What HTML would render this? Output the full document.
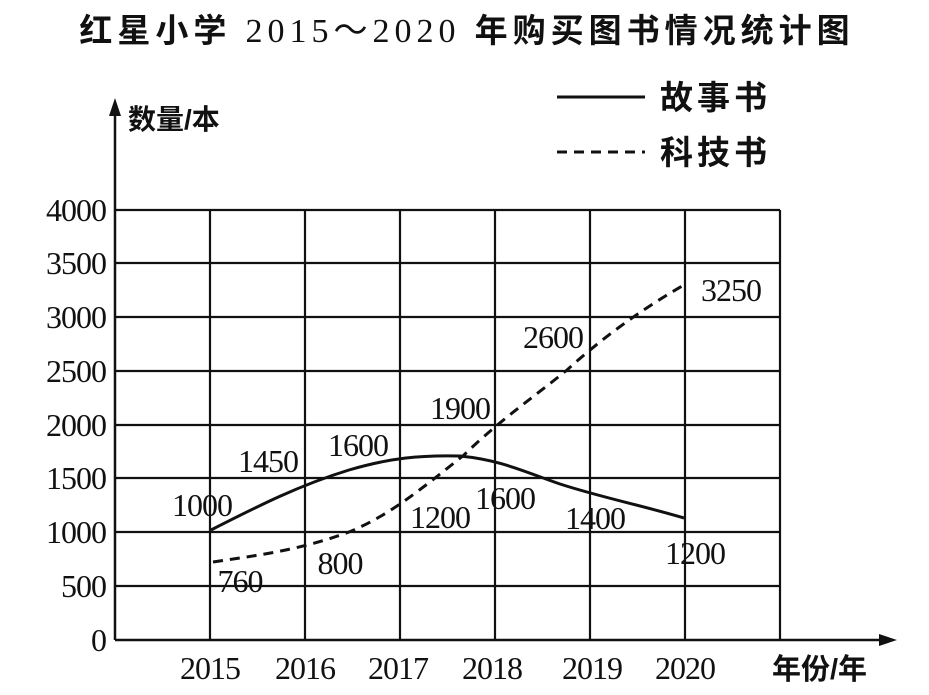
<!DOCTYPE html>
<html><head><meta charset="utf-8"><style>
body{margin:0;background:#fff}
svg{display:block}
.s{font-family:"Liberation Serif",serif;font-size:32px;fill:#111;letter-spacing:-1px}
.c{font-family:"Liberation Sans","Noto Sans CJK SC",sans-serif;font-weight:bold;fill:#111}
</style></head><body>
<svg width="929" height="695" viewBox="0 0 929 695">
<text x="467" y="42" text-anchor="middle" class="c" font-size="33" letter-spacing="5">红星小学 <tspan font-family="Liberation Serif" font-weight="normal" font-size="34">2015～2020</tspan> 年购买图书情况统计图</text>
<g stroke="#111" stroke-width="2.2" fill="none">
<path d="M115 210H780M115 263H780M115 317H780M115 371H780M115 425H780M115 478H780M115 532H780M115 586H780"/>
<path d="M210 210V640M305 210V640M400 210V640M495 210V640M590 210V640M685 210V640M780 210V640"/>
<path d="M115 640V104M115 640H890" stroke-width="2.5"/>
<path d="M211 530 C260 505 300 485 349 470 C390 458 420 455 460 456 C500 460 520 470 560 484 C600 497 640 505 684 518" stroke-width="3"/>
<path d="M213 562 C260 555 300 550 349 532 C390 515 420 490 464 455 C500 420 530 400 567 370 C600 340 640 310 684 285" stroke-width="3" stroke-dasharray="10,7"/>
<path d="M557 97H645" stroke-width="3"/>
<path d="M557 152H645" stroke-width="3" stroke-dasharray="10,7"/>
</g>
<path d="M115 98 L109 116 L121 116Z" fill="#111"/>
<path d="M897 640 L879 634 L879 646Z" fill="#111"/>
<g class="s" text-anchor="end">
<text x="106" y="221">4000</text><text x="106" y="274">3500</text><text x="106" y="328">3000</text><text x="106" y="382">2500</text><text x="106" y="436">2000</text><text x="106" y="489">1500</text><text x="106" y="543">1000</text><text x="106" y="597">500</text><text x="106" y="651">0</text>
</g>
<g class="s" text-anchor="middle">
<text x="210" y="679">2015</text><text x="305" y="679">2016</text><text x="398" y="679">2017</text><text x="492" y="679">2018</text><text x="592" y="679">2019</text><text x="685" y="679">2020</text>
<text x="202" y="516">1000</text><text x="268" y="472">1450</text><text x="358" y="456">1600</text><text x="460" y="419">1900</text><text x="553" y="348">2600</text><text x="731" y="301">3250</text>
<text x="440" y="528">1200</text><text x="505" y="509">1600</text><text x="595" y="529">1400</text><text x="695" y="564">1200</text><text x="240" y="592">760</text><text x="340" y="574">800</text>
</g>
<text x="128" y="129" class="c" font-size="28">数量/本</text>
<text x="660" y="109" class="c" font-size="33" letter-spacing="4">故事书</text>
<text x="660" y="164" class="c" font-size="33" letter-spacing="4">科技书</text>
<text x="772" y="679" class="c" font-size="29">年份/年</text>
</svg>
</body></html>
